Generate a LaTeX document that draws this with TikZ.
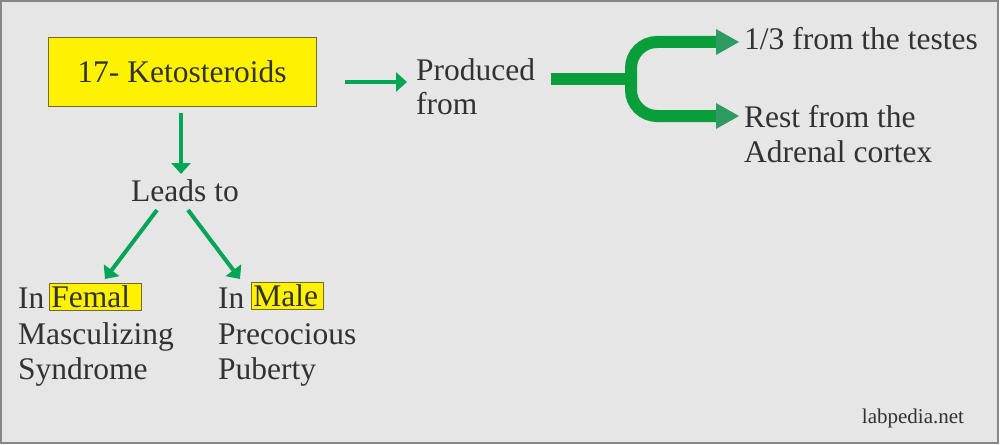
\documentclass[tikz,border=0pt]{standalone}
\usepackage{fontspec}
\setmainfont{LiberationSerif}[Extension=.ttf, UprightFont=*-Regular, BoldFont=*-Bold]
\usetikzlibrary{arrows.meta}
\definecolor{bg}{RGB}{230,230,230}
\definecolor{frame}{RGB}{135,135,135}
\definecolor{txt}{RGB}{50,50,50}
\definecolor{ybox}{RGB}{255,242,0}
\definecolor{yedge}{RGB}{120,105,40}
\definecolor{agreen}{RGB}{0,165,85}
\definecolor{fgreen}{RGB}{10,158,58}
\definecolor{hgreen}{RGB}{46,155,98}
\begin{document}
\begin{tikzpicture}[x=1pt,y=-1pt,
  lbl/.style={inner sep=0pt, text=txt, font=\fontsize{31.5}{36}\selectfont},
  hl/.style={lbl, draw=yedge, line width=0.8pt, fill=ybox, inner xsep=2pt, inner ysep=0pt, minimum height=27pt, align=left},
  arr/.style={draw=agreen, line width=4pt, -{Triangle[length=11pt,width=19pt]}},
  fork/.style={draw=fgreen, line width=12pt},
  forkhead/.style={fill=hgreen}
]
\useasboundingbox (0,0) rectangle (1000,444);
\fill[white] (0,0) rectangle (1000,444);
\draw[frame, fill=bg, line width=1.5pt] (1,1) rectangle (998,443);

% main box
\node (kbox) [lbl, draw=yedge, line width=1pt, fill=ybox, minimum width=268pt, minimum height=68pt] at (182,72) {17- Ketosteroids};

% produced from
\node (prod1) [lbl, anchor=base west] at (416,80) {Produced};
\node (prod2) [lbl, anchor=base west] at (416,114) {from};
\coordinate (a1s) at (345,82);
\coordinate (a1e) at (407,82);
\draw[arr] (a1s) -- (a1e);

% fork
\coordinate (fs) at (551,79);
\coordinate (fj) at (631,79);
\coordinate (ftop) at (631,42);
\coordinate (fbot) at (631,116);
\coordinate (fte) at (718,42);
\coordinate (fbe) at (718,116);
\draw[fork] (fs) -- (fj);
\draw[fork, rounded corners=26pt] (fte) -- (ftop) -- (fbot) -- (fbe);
\fill[forkhead] (716,29) -- (739,42) -- (716,55) -- cycle;
\fill[forkhead] (716,103) -- (739,116) -- (716,129) -- cycle;

\node (testes) [lbl, anchor=base west] at (744,50) {1/3 from the testes};
\node (rest1) [lbl, anchor=base west] at (744,127) {Rest from the};
\node (rest2) [lbl, anchor=base west] at (744,162) {Adrenal cortex};

% leads to
\coordinate (d1s) at (181,113);
\coordinate (d1e) at (181,174);
\draw[arr] (d1s) -- (d1e);
\node (leads) [lbl, anchor=base] at (185,201) {Leads to};

\coordinate (l1s) at (157,210);
\coordinate (l1e) at (105,279);
\coordinate (r1s) at (188,210);
\coordinate (r1e) at (240,279);
\draw[arr] (l1s) -- (l1e);
\draw[arr] (r1s) -- (r1e);

% female column
\node (fin) [lbl, anchor=base west] at (18,308) {In};
\node (fem) [hl, anchor=south west, text width=88pt, minimum width=92pt] at (49,311) {Femal};
\node (masc) [lbl, anchor=base west] at (18,344) {Masculizing};
\node (synd) [lbl, anchor=base west] at (18,379) {Syndrome};

% male column
\node (min) [lbl, anchor=base west] at (218,308) {In};
\node (mal) [hl, anchor=south west, text width=68pt, minimum width=72pt] at (251,310) {Male};
\node (prec) [lbl, anchor=base west] at (218,344) {Precocious};
\node (pub) [lbl, anchor=base west] at (218,379) {Puberty};

\node (site) [lbl, anchor=base, font=\fontsize{21}{24}\selectfont] at (913,423) {labpedia.net};
\end{tikzpicture}
\end{document}
